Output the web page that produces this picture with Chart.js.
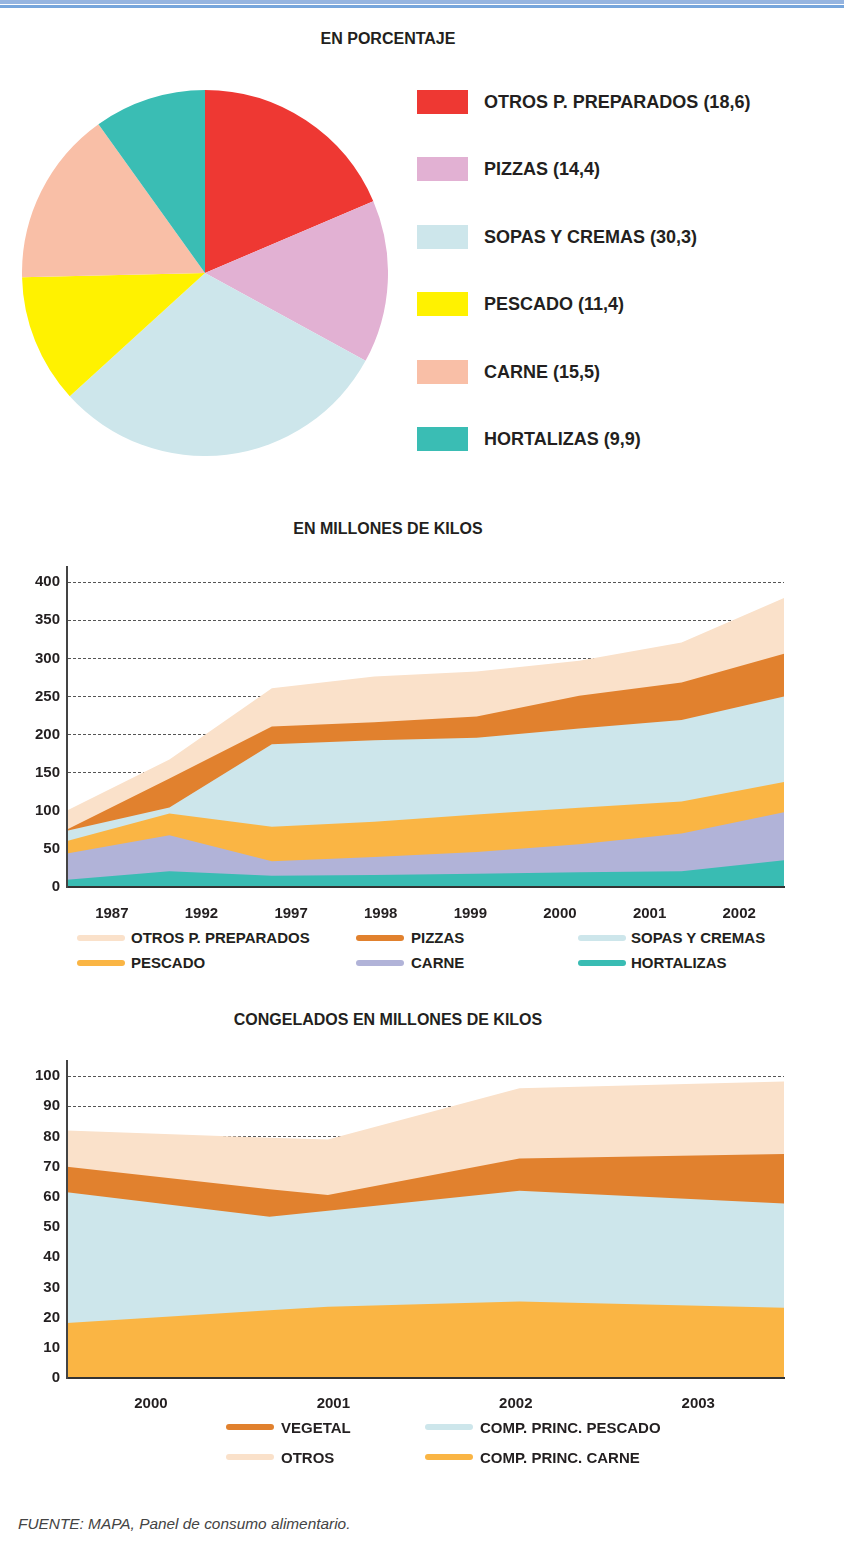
<!DOCTYPE html>
<html lang="es">
<head>
<meta charset="utf-8">
<title>Platos preparados</title>
<script src="https://cdn.jsdelivr.net/npm/chart.js@4.4.1/dist/chart.umd.min.js"></script>
<style>
    body { margin: 0; background: #fff; font-family: 'Liberation Sans', Arial, sans-serif; color: #231f20; }
    #page { position: relative; width: 844px; height: 1549px; overflow: hidden; }
    .band { position: absolute; left: 0; width: 844px; }
    .title { position: absolute; left: 0; width: 776px; text-align: center; font-weight: bold; font-size: 16px; }
    canvas { position: absolute; }
    .pie-legend { position: absolute; left: 417px; top: 90px; }
    .pie-legend .row { height: 67.4px; display: flex; align-items: flex-start; }
    .pie-legend .sw { width: 51px; height: 24px; margin-right: 16px; }
    .pie-legend .txt { font-size: 18px; font-weight: bold; line-height: 24px; white-space: nowrap; }
    .area-legend { position: absolute; display: grid; }
    .area-legend .item { display: flex; align-items: center; font-size: 15px; font-weight: bold; white-space: nowrap; }
    .area-legend .sw { width: 48px; height: 6px; border-radius: 3px; }
    .source { position: absolute; left: 18px; top: 1515px; font-size: 15.4px; font-style: italic; color: #444; }
</style>
</head>
<body>
<div id="page">
    <div class="band" style="top:0;height:4px;background:#96b5e0"></div>
    <div class="band" style="top:5px;height:3px;background:#77a6dc"></div>

    <div class="title" style="top:30px">EN PORCENTAJE</div>
    <canvas id="pie" width="366" height="366" style="left:22px;top:90px"></canvas>
    <div class="pie-legend" id="pieLegend"></div>

    <div class="title" style="top:520px">EN MILLONES DE KILOS</div>
    <canvas id="kilos" width="844" height="370" style="left:0;top:550px"></canvas>
    <div class="area-legend" id="kilosLegend" style="left:77px;top:925px;grid-template-columns:279px 222px auto;grid-auto-rows:25px"></div>

    <div class="title" style="top:1011px">CONGELADOS EN MILLONES DE KILOS</div>
    <canvas id="congelados" width="844" height="370" style="left:0;top:1045px"></canvas>
    <div class="area-legend" id="congLegend" style="left:226px;top:1412px;grid-template-columns:199px auto;grid-auto-rows:30px"></div>

    <div class="source">FUENTE: MAPA, Panel de consumo alimentario.</div>
</div>

<script>
// Data

// Pie: share in percent (clockwise from 12 o'clock)
const pieLabels = ['OTROS P. PREPARADOS', 'PIZZAS', 'SOPAS Y CREMAS', 'PESCADO', 'CARNE', 'HORTALIZAS'];
const pieValues = [18.6, 14.4, 30.3, 11.4, 15.5, 9.9];
const pieColors = ['#ee3833', '#e2b1d3', '#cde6eb', '#fff200', '#f9bfa7', '#3abdb4'];

// Stacked area: millones de kilos (bottom to top)
const years = ['1987', '1992', '1997', '1998', '1999', '2000', '2001', '2002'];
const kilosTicks = [0, 50, 100, 150, 200, 250, 300, 350, 400];
const hortalizas = [9.6, 20.6, 14.9, 15.8, 17.5, 19.3, 20.6, 35.1];
const carne = [34.3, 47.4, 18.9, 23.7, 28.5, 36.8, 49.6, 63.1];
const pescado = [16.6, 28.5, 45.2, 46.0, 49.2, 47.9, 42.1, 39.5];
const sopas = [13.2, 7.9, 108.3, 107.0, 100.8, 103.9, 107.0, 112.3];
const pizzas = [1.7, 38.1, 23.2, 23.7, 27.7, 43.0, 49.1, 56.1];
const otrosPrep = [25.0, 25.0, 50.5, 60.1, 59.2, 46.0, 52.6, 73.3];

// Stacked area: congelados (bottom to top), x in years
const congX = [1999.54, 2000.65, 2000.97, 2002.02, 2003.47];
const congTicks = [2000, 2001, 2002, 2003];
const congYTicks = [0, 10, 20, 30, 40, 50, 60, 70, 80, 90, 100];
const compCarne = [18.2, 22.4, 23.6, 25.3, 23.3];
const compPescado = [43.3, 31.0, 31.8, 36.7, 34.5];
const vegetal = [8.5, 9.1, 5.2, 10.7, 16.4];
const otrosCong = [12.0, 17.1, 18.4, 23.3, 24.0];

// Colors
const C_OTROS = '#fae1ca';
const C_PIZZAS = '#e1812e';
const C_SOPAS = '#cde6eb';
const C_PESCADO = '#fab544';
const C_CARNE = '#b1b3d8';
const C_HORT = '#39bcb3';

Chart.defaults.font.family = "'Liberation Sans', Arial, sans-serif";
Chart.defaults.color = '#231f20';
Chart.defaults.devicePixelRatio = 1;

const tickFont = { size: 15, weight: 'bold' };

// Area dataset: all fill to origin, dataset 0 is painted last (on top)
function area(label, data, color) {
    return {
        label: label,
        data: data,
        backgroundColor: color,
        borderColor: color,
        borderWidth: 0,
        pointRadius: 0,
        pointHoverRadius: 0,
        tension: 0,
        fill: 'origin'
    };
}

// Pie chart
new Chart(document.getElementById('pie'), {
    type: 'pie',
    data: {
        labels: pieLabels,
        datasets: [{
            data: pieValues,
            backgroundColor: pieColors,
            borderWidth: 0,
            hoverOffset: 0,
            offset: 0
        }]
    },
    options: {
        responsive: false,
        animation: false,
        layout: { padding: 0 },
        plugins: { legend: { display: false }, tooltip: { enabled: false } }
    }
});

const pieLegend = document.getElementById('pieLegend');
pieLabels.forEach((name, i) => {
    const value = pieValues[i].toFixed(1).replace('.', ',');
    pieLegend.innerHTML += `
        <div class="row">
            <span class="sw" style="background:${pieColors[i]}"></span>
            <span class="txt">${name} (${value})</span>
        </div>`;
});

// Millones de kilos
new Chart(document.getElementById('kilos'), {
    type: 'line',
    data: {
        labels: years,
        datasets: [
            area('HORTALIZAS', hortalizas, C_HORT),
            area('CARNE', carne, C_CARNE),
            area('PESCADO', pescado, C_PESCADO),
            area('SOPAS Y CREMAS', sopas, C_SOPAS),
            area('PIZZAS', pizzas, C_PIZZAS),
            area('OTROS P. PREPARADOS', otrosPrep, C_OTROS)
        ]
    },
    options: {
        responsive: false,
        animation: false,
        layout: { padding: { top: 17, right: 60, left: 0, bottom: 0 } },
        plugins: { legend: { display: false }, tooltip: { enabled: false } },
        scales: {
            x: { type: 'category', display: false, offset: false },
            x2: {
                type: 'category',
                axis: 'x',
                position: 'bottom',
                labels: years,
                offset: true,
                grid: { display: false },
                border: { display: true, color: '#333', width: 2, z: 1 },
                ticks: { font: tickFont, padding: 10 },
                afterFit: s => { s.height = 33; }
            },
            y: {
                stacked: true,
                min: 0,
                max: 420,
                ticks: { font: tickFont, padding: 7 },
                afterBuildTicks: s => { s.ticks = kilosTicks.map(v => ({ value: v })); },
                grid: { color: '#555', lineWidth: 1, drawTicks: false },
                border: { display: true, color: '#444', width: 2, dash: [3, 2], z: 1 },
                afterFit: s => { s.width = 67; }
            }
        }
    }
});

// Congelados
new Chart(document.getElementById('congelados'), {
    type: 'line',
    data: {
        datasets: [
            area('COMP. PRINC. CARNE', compCarne.map((v, i) => ({ x: congX[i], y: v })), C_PESCADO),
            area('COMP. PRINC. PESCADO', compPescado.map((v, i) => ({ x: congX[i], y: v })), C_SOPAS),
            area('VEGETAL', vegetal.map((v, i) => ({ x: congX[i], y: v })), C_PIZZAS),
            area('OTROS', otrosCong.map((v, i) => ({ x: congX[i], y: v })), C_OTROS)
        ]
    },
    options: {
        responsive: false,
        animation: false,
        layout: { padding: { top: 16, right: 60, left: 0, bottom: 0 } },
        plugins: { legend: { display: false }, tooltip: { enabled: false } },
        scales: {
            x: {
                type: 'linear',
                min: congX[0],
                max: congX[congX.length - 1],
                afterBuildTicks: s => { s.ticks = congTicks.map(v => ({ value: v })); },
                ticks: { font: tickFont, padding: 9, callback: v => String(v) },
                grid: { display: false },
                border: { display: true, color: '#333', width: 2, z: 1 },
                afterFit: s => { s.height = 37; }
            },
            y: {
                stacked: true,
                min: 0,
                max: 105,
                ticks: { font: tickFont, padding: 7 },
                afterBuildTicks: s => { s.ticks = congYTicks.map(v => ({ value: v })); },
                grid: { color: '#555', lineWidth: 1, drawTicks: false },
                border: { display: true, color: '#444', width: 2, dash: [3, 2], z: 1 },
                afterFit: s => { s.width = 67; }
            }
        }
    }
});

// HTML legends laid out in columns like the original
function buildLegend(id, items) {
    const el = document.getElementById(id);
    el.innerHTML = items.map(([name, color, gap]) => `
        <div class="item">
            <span class="sw" style="background:${color};margin-right:${gap}px"></span>${name}
        </div>`).join('');
}

buildLegend('kilosLegend', [
    ['OTROS P. PREPARADOS', C_OTROS, 6],
    ['PIZZAS', C_PIZZAS, 7],
    ['SOPAS Y CREMAS', C_SOPAS, 5],
    ['PESCADO', C_PESCADO, 6],
    ['CARNE', C_CARNE, 7],
    ['HORTALIZAS', C_HORT, 5]
]);

buildLegend('congLegend', [
    ['VEGETAL', C_PIZZAS, 7],
    ['COMP. PRINC. PESCADO', C_SOPAS, 7],
    ['OTROS', C_OTROS, 7],
    ['COMP. PRINC. CARNE', C_PESCADO, 7]
]);
</script>
</body>
</html>
